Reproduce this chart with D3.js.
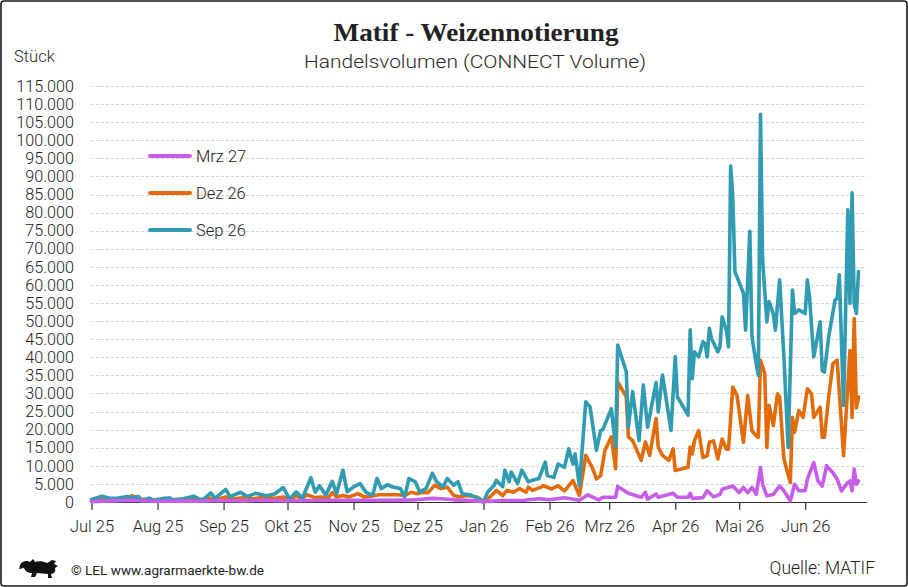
<!DOCTYPE html>
<html><head><meta charset="utf-8">
<script src="https://cdn.jsdelivr.net/npm/d3@7"></script>
<style>html,body{margin:0;padding:0;background:#fff;}svg{display:block;}</style>
</head><body>
<svg id="c" width="908" height="587"></svg>
<script>
const titleText = "Matif - Weizennotierung";
const subtitleText = "Handelsvolumen (CONNECT Volume)";
const yTicks = [0,5000,10000,15000,20000,25000,30000,35000,40000,45000,50000,55000,60000,65000,70000,75000,80000,85000,90000,95000,100000,105000,110000,115000];
const monthTicks = ["2025-07-01","2025-08-01","2025-09-01","2025-10-01","2025-11-01","2025-12-01","2026-01-01","2026-02-01","2026-03-01","2026-04-01","2026-05-01","2026-06-01"];
const monthLabels = ["Jul 25","Aug 25","Sep 25","Okt 25","Nov 25","Dez 25","Jan 26","Feb 26","Mrz 26","Apr 26","Mai 26","Jun 26"];
const seriesNames = ["Mrz 27","Dez 26","Sep 26"];
const seriesColors = ["#c65ee8","#e26c0c","#319bb1"];

const sep26 = [["2025-07-01",700],["2025-07-06",1600],["2025-07-09",1100],["2025-07-13",1000],["2025-07-18",1500],["2025-07-20",1200],["2025-07-23",1500],["2025-07-25",300],["2025-07-28",1100],["2025-07-30",500],["2025-08-04",1000],["2025-08-07",1100],["2025-08-08",600],["2025-08-13",900],["2025-08-18",1600],["2025-08-22",400],["2025-08-26",2500],["2025-08-28",1000],["2025-09-02",3500],["2025-09-04",1500],["2025-09-09",2700],["2025-09-12",1500],["2025-09-16",2400],["2025-09-21",1700],["2025-09-25",2200],["2025-09-29",4000],["2025-10-02",800],["2025-10-05",2800],["2025-10-08",1100],["2025-10-12",6700],["2025-10-14",2700],["2025-10-16",4500],["2025-10-19",1900],["2025-10-22",5700],["2025-10-24",2300],["2025-10-27",8800],["2025-10-29",2800],["2025-11-01",4200],["2025-11-04",5100],["2025-11-07",2600],["2025-11-10",1900],["2025-11-12",6500],["2025-11-14",3700],["2025-11-17",4800],["2025-11-19",4200],["2025-11-23",3700],["2025-11-25",1400],["2025-11-27",6500],["2025-11-30",5600],["2025-12-02",2800],["2025-12-05",3700],["2025-12-08",7900],["2025-12-10",5600],["2025-12-13",4200],["2025-12-15",6500],["2025-12-18",4600],["2025-12-20",5600],["2025-12-22",2300],["2025-12-26",1900],["2025-12-30",900],["2026-01-01",0],["2026-01-03",2800],["2026-01-06",4600],["2026-01-07",6000],["2026-01-10",4200],["2026-01-11",8800],["2026-01-13",5600],["2026-01-14",8300],["2026-01-17",5100],["2026-01-19",8800],["2026-01-22",5600],["2026-01-24",6000],["2026-01-27",6500],["2026-01-30",11000],["2026-01-31",7300],["2026-02-03",6800],["2026-02-05",10500],["2026-02-08",9600],["2026-02-10",14700],["2026-02-12",10500],["2026-02-13",13300],["2026-02-15",4500],["2026-02-18",27700],["2026-02-20",26300],["2026-02-23",14300],["2026-02-25",19800],["2026-02-26",20000],["2026-03-02",25800],["2026-03-04",15200],["2026-03-05",43400],["2026-03-09",36000],["2026-03-10",20700],["2026-03-12",30500],["2026-03-15",17000],["2026-03-17",32300],["2026-03-19",20700],["2026-03-23",33000],["2026-03-24",24900],["2026-03-26",35100],["2026-03-30",19800],["2026-04-01",40200],["2026-04-02",29100],["2026-04-07",24000],["2026-04-08",47600],["2026-04-09",34100],["2026-04-10",41500],["2026-04-12",40100],["2026-04-14",44300],["2026-04-15",43800],["2026-04-16",40100],["2026-04-17",48000],["2026-04-18",45200],["2026-04-21",41500],["2026-04-22",42900],["2026-04-23",51200],["2026-04-25",47500],["2026-04-26",42900],["2026-04-27",92900],["2026-04-28",84500],["2026-04-29",63700],["2026-05-03",57700],["2026-05-04",47500],["2026-05-06",74800],["2026-05-07",45700],["2026-05-09",38200],["2026-05-10",35000],["2026-05-11",107200],["2026-05-12",66900],["2026-05-14",49800],["2026-05-15",55400],["2026-05-17",52100],["2026-05-18",47500],["2026-05-20",61400],["2026-05-22",40100],["2026-05-24",15100],["2026-05-26",58600],["2026-05-27",52100],["2026-05-29",53100],["2026-06-01",52100],["2026-06-02",61400],["2026-06-03",56800],["2026-06-05",40100],["2026-06-08",49800],["2026-06-09",36400],["2026-06-10",35900],["2026-06-12",45600],["2026-06-15",55800],["2026-06-16",56300],["2026-06-17",62800],["2026-06-19",26700],["2026-06-21",80800],["2026-06-22",54900],["2026-06-23",85500],["2026-06-24",54900],["2026-06-25",52100],["2026-06-26",63700]];

const dez26 = [["2025-07-01",300],["2025-07-06",800],["2025-07-10",600],["2025-07-15",1000],["2025-07-18",900],["2025-07-20",1800],["2025-07-24",600],["2025-07-28",900],["2025-08-01",300],["2025-08-05",700],["2025-08-10",500],["2025-08-15",900],["2025-08-20",500],["2025-08-25",1100],["2025-08-29",700],["2025-09-02",1400],["2025-09-05",800],["2025-09-10",1200],["2025-09-15",900],["2025-09-20",1300],["2025-09-25",1000],["2025-09-29",1400],["2025-10-02",600],["2025-10-05",1700],["2025-10-08",900],["2025-10-10",2000],["2025-10-14",1200],["2025-10-17",1400],["2025-10-20",1100],["2025-10-22",2600],["2025-10-24",1400],["2025-10-27",1800],["2025-10-30",1400],["2025-11-03",2300],["2025-11-06",1400],["2025-11-09",1600],["2025-11-13",2000],["2025-11-17",2000],["2025-11-22",2000],["2025-11-25",1800],["2025-11-28",2700],["2025-12-01",2300],["2025-12-03",2700],["2025-12-06",2600],["2025-12-09",4600],["2025-12-12",3700],["2025-12-15",4100],["2025-12-18",1800],["2025-12-21",1400],["2025-12-24",1800],["2025-12-29",1400],["2026-01-01",0],["2026-01-04",1400],["2026-01-07",3200],["2026-01-10",1800],["2026-01-12",3200],["2026-01-15",2700],["2026-01-18",3700],["2026-01-21",2700],["2026-01-22",4100],["2026-01-24",3200],["2026-01-28",4100],["2026-01-29",4500],["2026-02-02",3600],["2026-02-05",4500],["2026-02-08",3100],["2026-02-12",5900],["2026-02-15",1800],["2026-02-18",12900],["2026-02-20",10600],["2026-02-21",9600],["2026-02-23",6400],["2026-02-25",7300],["2026-02-27",14300],["2026-03-02",18000],["2026-03-04",9200],["2026-03-05",33200],["2026-03-09",29100],["2026-03-10",18000],["2026-03-12",17000],["2026-03-16",11500],["2026-03-18",16600],["2026-03-20",12900],["2026-03-23",23100],["2026-03-24",15200],["2026-03-26",12900],["2026-03-29",11500],["2026-03-31",14700],["2026-04-01",8700],["2026-04-07",9600],["2026-04-08",15200],["2026-04-09",13300],["2026-04-10",16900],["2026-04-12",19700],["2026-04-14",12300],["2026-04-16",12800],["2026-04-17",16500],["2026-04-19",16900],["2026-04-21",11900],["2026-04-23",17400],["2026-04-25",14600],["2026-04-26",14600],["2026-04-28",31800],["2026-04-30",29400],["2026-05-03",16500],["2026-05-05",29400],["2026-05-07",19700],["2026-05-09",18300],["2026-05-10",17900],["2026-05-11",39200],["2026-05-13",35500],["2026-05-14",15100],["2026-05-15",26700],["2026-05-17",21100],["2026-05-19",29900],["2026-05-20",29000],["2026-05-22",11900],["2026-05-25",5400],["2026-05-26",23400],["2026-05-27",19300],["2026-05-29",25300],["2026-05-31",23400],["2026-06-02",31300],["2026-06-04",29900],["2026-06-05",23400],["2026-06-08",26200],["2026-06-09",17900],["2026-06-10",17900],["2026-06-12",29000],["2026-06-14",38200],["2026-06-16",39200],["2026-06-19",12800],["2026-06-22",41900],["2026-06-23",23400],["2026-06-24",50700],["2026-06-25",26000],["2026-06-26",29000]];

const mrz27 = [["2025-07-01",100],["2025-07-10",300],["2025-07-20",500],["2025-07-30",200],["2025-08-10",300],["2025-08-20",200],["2025-08-31",400],["2025-09-10",300],["2025-09-20",500],["2025-09-30",300],["2025-10-10",400],["2025-10-20",500],["2025-10-31",500],["2025-11-10",500],["2025-11-20",500],["2025-11-30",600],["2025-12-08",1000],["2025-12-12",900],["2025-12-18",600],["2025-12-28",300],["2026-01-01",100],["2026-01-10",400],["2026-01-20",500],["2026-01-27",900],["2026-02-01",600],["2026-02-08",1200],["2026-02-15",500],["2026-02-19",2000],["2026-02-24",600],["2026-02-26",1300],["2026-03-04",1300],["2026-03-05",4300],["2026-03-10",2400],["2026-03-16",1300],["2026-03-18",2700],["2026-03-19",800],["2026-03-23",2200],["2026-03-24",1300],["2026-03-31",2400],["2026-04-02",1300],["2026-04-07",1300],["2026-04-08",2400],["2026-04-09",1000],["2026-04-14",1200],["2026-04-16",3100],["2026-04-19",1400],["2026-04-22",2100],["2026-04-23",3500],["2026-04-28",4400],["2026-05-01",2600],["2026-05-03",4000],["2026-05-05",2600],["2026-05-07",4000],["2026-05-09",2100],["2026-05-11",9500],["2026-05-12",4900],["2026-05-14",1700],["2026-05-17",2100],["2026-05-20",4400],["2026-05-22",3100],["2026-05-25",300],["2026-05-27",4900],["2026-05-29",3100],["2026-06-01",3100],["2026-06-02",6300],["2026-06-05",10900],["2026-06-07",5800],["2026-06-09",4400],["2026-06-11",10000],["2026-06-14",8100],["2026-06-16",6300],["2026-06-18",3100],["2026-06-21",5400],["2026-06-22",5800],["2026-06-23",3100],["2026-06-24",9100],["2026-06-25",4900],["2026-06-26",5800]];

const parse = d3.timeParse("%Y-%m-%d");
const de = d3.formatLocale({decimal:",",thousands:".",grouping:[3],currency:["","€"]});
const fmt = de.format(",.0f");
const FONT = "Roboto, 'Liberation Sans', sans-serif";

const svg = d3.select("#c");
const W = 908, H = 587;
const x = d3.scaleTime().domain([parse("2025-07-01"), parse("2026-06-30")]).range([91.5, 867]);
const y = d3.scaleLinear().domain([0, 115000]).range([502, 86]);

svg.append("rect").attr("x",1).attr("y",1).attr("width",W-2).attr("height",H-2)
  .attr("rx",3).attr("fill","#fff").attr("stroke","#1a1a1a").attr("stroke-width",1.6);

// Title
svg.append("text").attr("x",476).attr("y",41).attr("text-anchor","middle")
  .attr("font-family","'Liberation Serif','DejaVu Serif',serif").attr("font-weight","bold")
  .attr("font-size",26).attr("fill","#222").attr("textLength",285).attr("lengthAdjust","spacingAndGlyphs")
  .text(titleText);
svg.append("text").attr("x",475).attr("y",68).attr("text-anchor","middle")
  .attr("font-family",FONT).attr("font-weight",300).attr("font-size",18.5).attr("fill","#2a2a2a")
  .attr("textLength",342).attr("lengthAdjust","spacingAndGlyphs")
  .text(subtitleText);
svg.append("text").attr("x",14).attr("y",62)
  .attr("font-family",FONT).attr("font-weight",300).attr("font-size",16.5).attr("fill","#2a2a2a").text("Stück");

// Grid
const grid = svg.append("g");
grid.selectAll("line").data(yTicks.filter(v=>v>0)).join("line")
  .attr("x1",91).attr("x2",867).attr("y1",d=>Math.round(y(d))+0.5).attr("y2",d=>Math.round(y(d))+0.5)
  .attr("stroke","#d4d4d4").attr("stroke-width",1).attr("stroke-dasharray","3,2");

// Y axis labels
const yAxis = d3.axisLeft(y).tickValues(yTicks).tickFormat(fmt).tickSize(0).tickPadding(0);
const ya = svg.append("g").attr("transform","translate(74,0)").call(yAxis);
ya.select(".domain").remove();
ya.selectAll("text").attr("font-family",FONT).attr("font-weight",300).attr("font-size",16.2).attr("fill","#222");

// X axis
const xAxis = d3.axisBottom(x).tickValues(monthTicks.map(parse))
  .tickFormat((d,i)=>monthLabels[i]).tickSize(8).tickSizeOuter(0).tickPadding(10);
const xa = svg.append("g").attr("transform","translate(0,502)").call(xAxis);
xa.select(".domain").attr("d","M91,0.5H867").attr("stroke","#333").attr("stroke-width",1.2);
xa.selectAll(".tick line").attr("stroke","#333").attr("stroke-width",1.2);
xa.selectAll("text").attr("font-family",FONT).attr("font-weight",300).attr("font-size",16.5).attr("fill","#222");

// Lines
const line = d3.line().x(d=>x(parse(d[0]))).y(d=>y(d[1])).curve(d3.curveLinear);
const drawOrder = [[dez26,1],[sep26,2],[mrz27,0]];
const lg = svg.append("g");
drawOrder.forEach(([data,i])=>{
  lg.append("path").datum(data).attr("d",line).attr("fill","none")
    .attr("stroke",seriesColors[i]).attr("stroke-width",3.6)
    .attr("stroke-linejoin","round").attr("stroke-linecap","round");
});

// Legend
const legY = [156,193,230];
const leg = svg.append("g");
seriesNames.forEach((n,i)=>{
  leg.append("line").attr("x1",150).attr("x2",190).attr("y1",legY[i]).attr("y2",legY[i])
    .attr("stroke",seriesColors[i]).attr("stroke-width",4).attr("stroke-linecap","round");
  leg.append("text").attr("x",196).attr("y",legY[i]+6)
    .attr("font-family",FONT).attr("font-weight",300).attr("font-size",16.5).attr("fill","#222").text(n);
});

// Footer
const lion = svg.append("g").attr("transform","translate(18,557)");
lion.append("path").attr("fill","#111").attr("d",
  "M2,8 C4,4 9,3 12,5 L15,2 L17,5 C20,4 25,4 29,6 L34,3 L38,4 L36,7 L40,9 L37,11 C38,14 36,17 33,17 L34,21 L30,21 L30,17 C26,17 22,16 19,16 L17,20 L13,20 L14,16 C10,16 7,14 6,11 L1,12 Z");
svg.append("text").attr("x",71).attr("y",575)
  .attr("font-family",FONT).attr("font-size",13.5).attr("fill","#222")
  .attr("textLength",193).attr("lengthAdjust","spacingAndGlyphs")
  .text("© LEL www.agrarmaerkte-bw.de");
svg.append("text").attr("x",875).attr("y",574).attr("text-anchor","end")
  .attr("font-family",FONT).attr("font-weight",300).attr("font-size",17.5).attr("fill","#222")
  .text("Quelle: MATIF");
</script>
</body></html>
